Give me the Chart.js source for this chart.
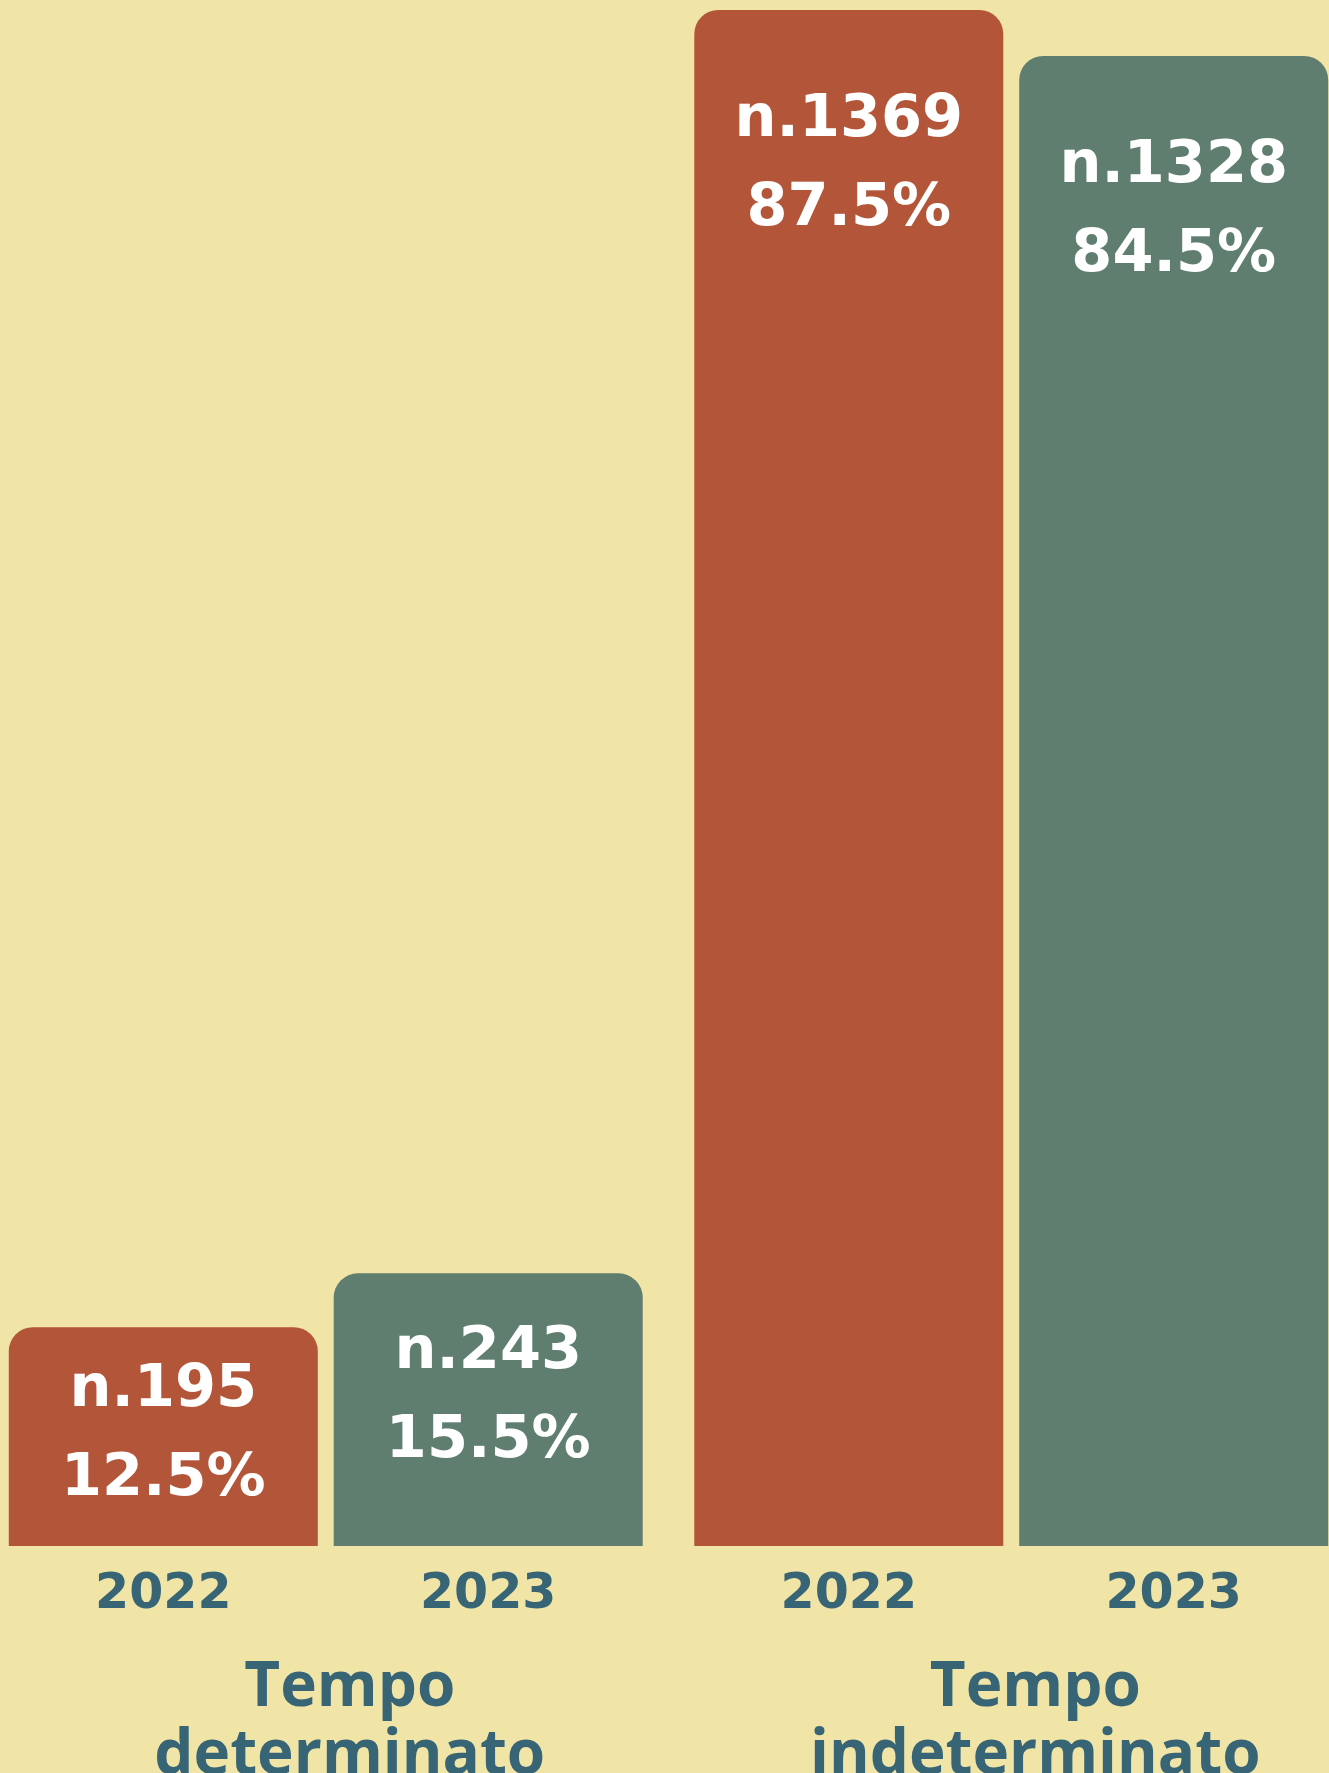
<!DOCTYPE html>
<html lang="it">
<head>
    <meta charset="UTF-8">
    <title>Tempo determinato / indeterminato</title>
    <script src="https://cdn.jsdelivr.net/npm/chart.js"></script>
    <style>
        html, body {
            margin: 0;
            padding: 0;
            width: 1329px;
            height: 1773px;
            overflow: hidden;
            background: #F0E4A7;
        }
        .wrap {
            position: absolute;
            left: -17px;
            top: 0;
            width: 1371px;
            height: 1773px;
        }
    </style>
</head>
<body>
    <div class="wrap">
        <canvas id="chart" width="1371" height="1773"></canvas>
    </div>

    <script>
        // dati
        const groups = [['Tempo', 'determinato'], ['Tempo', 'indeterminato']];
        const years = ['2022', '2023'];
        const counts2022 = [195, 1369];
        const counts2023 = [243, 1328];
        const pct2022 = [12.5, 87.5];
        const pct2023 = [15.5, 84.5];

        const rust = '#B35539';
        const green = '#5F7E70';
        const teal = '#376576';

        const percents = [pct2022, pct2023];

        // etichette dentro le barre + anni sotto
        const barLabels = {
            id: 'barLabels',
            afterDatasetsDraw(chart) {
                const ctx = chart.ctx;
                ctx.save();
                ctx.textAlign = 'center';
                ctx.textBaseline = 'middle';
                chart.data.datasets.forEach((ds, di) => {
                    const meta = chart.getDatasetMeta(di);
                    meta.data.forEach((bar, i) => {
                        const h = bar.base - bar.y;
                        const y1 = bar.y + Math.min(111, h * 0.29);
                        ctx.fillStyle = '#FFFFFF';
                        ctx.font = 'bold 59px "DejaVu Sans"';
                        ctx.fillText('n.' + ds.data[i], bar.x, y1);
                        ctx.fillText(percents[di][i].toFixed(1) + '%', bar.x, y1 + 89);

                        ctx.fillStyle = teal;
                        ctx.font = 'bold 49px "DejaVu Sans"';
                        ctx.fillText(ds.label, bar.x, bar.base + 49);
                    });
                });
                ctx.restore();
            }
        };

        new Chart(document.getElementById('chart'), {
            type: 'bar',
            data: {
                labels: groups,
                datasets: [{
                    label: years[0],
                    data: counts2022,
                    backgroundColor: rust,
                    borderRadius: { topLeft: 24, topRight: 24 },
                    borderSkipped: 'bottom'
                }, {
                    label: years[1],
                    data: counts2023,
                    backgroundColor: green,
                    borderRadius: { topLeft: 24, topRight: 24 },
                    borderSkipped: 'bottom'
                }]
            },
            options: {
                responsive: false,
                animation: false,
                devicePixelRatio: 1,
                categoryPercentage: 0.948,
                barPercentage: 0.951,
                layout: { padding: { top: 10, left: 0, right: 0, bottom: 0 } },
                plugins: {
                    legend: { display: false },
                    tooltip: { enabled: false }
                },
                scales: {
                    y: {
                        display: false,
                        min: 0,
                        max: Math.max(...counts2022, ...counts2023)
                    },
                    x: {
                        grid: { display: false },
                        border: { display: false },
                        afterFit: (s) => { s.height = 227; },
                        ticks: {
                            color: teal,
                            padding: 100,
                            labelOffset: 24,
                            maxRotation: 0,
                            autoSkip: false,
                            font: { family: '"Open Sans"', weight: 'bold', size: 62, lineHeight: 1.1 }
                        }
                    }
                }
            },
            plugins: [barLabels]
        });
    </script>
</body>
</html>
